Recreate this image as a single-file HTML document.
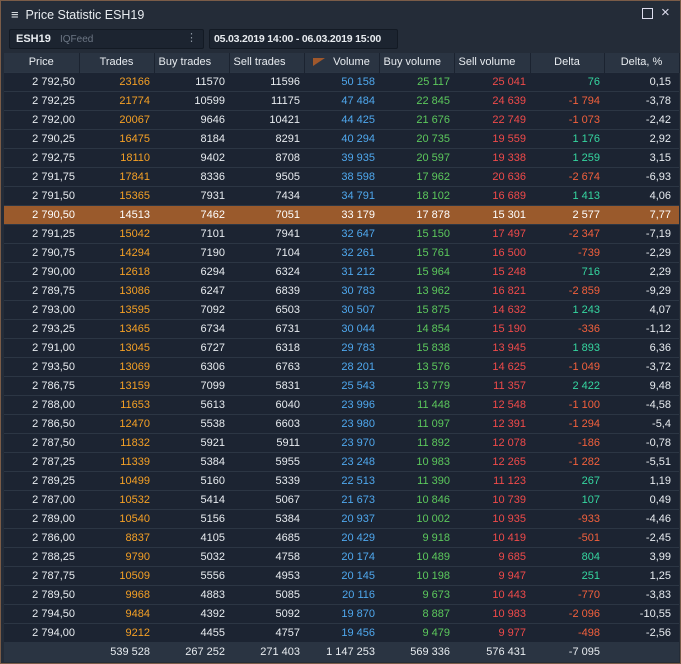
<!DOCTYPE html>
<html><head><meta charset="utf-8"><style>
*{margin:0;padding:0;box-sizing:border-box}
body{width:681px;height:664px;background:#252d39;font-family:"Liberation Sans",sans-serif;font-size:11px;color:#e8ecf0;position:relative;overflow:hidden}
.win{position:absolute;left:0;top:0;width:681px;height:664px;border:1px solid #7a5c48;background:#242c38}
.title{position:absolute;left:10px;top:6px;font-size:12.5px;color:#e8ecf0}
.ctl{position:absolute;top:5px;font-size:13px;color:#dde}
.box1{position:absolute;left:8px;top:28px;width:195px;height:20px;background:#1c2430;border:1px solid #131a24;border-radius:2px}
.box2{position:absolute;left:208px;top:28px;width:189px;height:20px;background:#1c2430;border:1px solid #131a24;border-radius:2px;font-weight:bold;padding:3px 0 0 4px;font-size:10.5px;white-space:nowrap;letter-spacing:-0.2px}
table{position:absolute;left:3px;top:52px;width:675px;border-collapse:collapse;table-layout:fixed}
td,th{height:19px;text-align:right;padding-right:4px;white-space:nowrap;font-weight:normal}
td:last-child{padding-right:8px}
th{background:#2a3442;border-right:1px solid #1b2330;text-align:center;padding:0;height:19px;font-size:11px}
tr.r td{background:#1c2432;border-top:1px solid #2c3644}
tr.h td{background:#9a5a2c;color:#fff!important;border-top:1px solid #2c3644}
tr.f td{background:#2a3442;height:20px}
.o{color:#f5a025}.b{color:#4fa8ee}.g{color:#5cc85c}.rd{color:#f04a4a}.p{color:#35d6a0}.n{color:#f2603c}
</style></head><body><div class="win">
<div class="title"><span style="font-size:13px">&#8801;</span>&nbsp; Price Statistic ESH19</div>
<div class="ctl" style="left:641px;width:11px;height:11px;border:1.3px solid #dde;top:7px"></div>
<div class="ctl" style="left:660px;top:3px;font-size:15px">&#215;</div>
<div class="box1"><span style="position:absolute;left:6px;top:3px;font-weight:bold">ESH19</span><span style="position:absolute;left:50px;top:4px;color:#6c7684;font-size:10px">IQFeed</span><span style="position:absolute;right:6px;top:1px;color:#8a94a0">&#8942;</span></div>
<div class="box2">05.03.2019 14:00 - 06.03.2019 15:00</div>
<table>
<colgroup><col style="width:75px"><col style="width:75px"><col style="width:75px"><col style="width:75px"><col style="width:75px"><col style="width:75px"><col style="width:76px"><col style="width:74px"><col style="width:75px"></colgroup>
<tr><th>Price</th><th>Trades</th><th style="text-align:left;padding-left:4px">Buy trades</th><th style="text-align:left;padding-left:4px">Sell trades</th><th><span style="display:inline-block;width:0;height:0;border-top:8px solid #a0582c;border-right:12px solid transparent;margin-right:8px;vertical-align:-1px"></span>Volume</th><th style="text-align:left;padding-left:4px">Buy volume</th><th style="text-align:left;padding-left:4px">Sell volume</th><th>Delta</th><th>Delta, %</th></tr>
<tr class="r"><td>2 792,50</td><td class="o">23166</td><td>11570</td><td>11596</td><td class="b">50 158</td><td class="g">25 117</td><td class="rd">25 041</td><td class="p">76</td><td>0,15</td></tr>
<tr class="r"><td>2 792,25</td><td class="o">21774</td><td>10599</td><td>11175</td><td class="b">47 484</td><td class="g">22 845</td><td class="rd">24 639</td><td class="n">-1 794</td><td>-3,78</td></tr>
<tr class="r"><td>2 792,00</td><td class="o">20067</td><td>9646</td><td>10421</td><td class="b">44 425</td><td class="g">21 676</td><td class="rd">22 749</td><td class="n">-1 073</td><td>-2,42</td></tr>
<tr class="r"><td>2 790,25</td><td class="o">16475</td><td>8184</td><td>8291</td><td class="b">40 294</td><td class="g">20 735</td><td class="rd">19 559</td><td class="p">1 176</td><td>2,92</td></tr>
<tr class="r"><td>2 792,75</td><td class="o">18110</td><td>9402</td><td>8708</td><td class="b">39 935</td><td class="g">20 597</td><td class="rd">19 338</td><td class="p">1 259</td><td>3,15</td></tr>
<tr class="r"><td>2 791,75</td><td class="o">17841</td><td>8336</td><td>9505</td><td class="b">38 598</td><td class="g">17 962</td><td class="rd">20 636</td><td class="n">-2 674</td><td>-6,93</td></tr>
<tr class="r"><td>2 791,50</td><td class="o">15365</td><td>7931</td><td>7434</td><td class="b">34 791</td><td class="g">18 102</td><td class="rd">16 689</td><td class="p">1 413</td><td>4,06</td></tr>
<tr class="h"><td>2 790,50</td><td>14513</td><td>7462</td><td>7051</td><td>33 179</td><td>17 878</td><td>15 301</td><td>2 577</td><td>7,77</td></tr>
<tr class="r"><td>2 791,25</td><td class="o">15042</td><td>7101</td><td>7941</td><td class="b">32 647</td><td class="g">15 150</td><td class="rd">17 497</td><td class="n">-2 347</td><td>-7,19</td></tr>
<tr class="r"><td>2 790,75</td><td class="o">14294</td><td>7190</td><td>7104</td><td class="b">32 261</td><td class="g">15 761</td><td class="rd">16 500</td><td class="n">-739</td><td>-2,29</td></tr>
<tr class="r"><td>2 790,00</td><td class="o">12618</td><td>6294</td><td>6324</td><td class="b">31 212</td><td class="g">15 964</td><td class="rd">15 248</td><td class="p">716</td><td>2,29</td></tr>
<tr class="r"><td>2 789,75</td><td class="o">13086</td><td>6247</td><td>6839</td><td class="b">30 783</td><td class="g">13 962</td><td class="rd">16 821</td><td class="n">-2 859</td><td>-9,29</td></tr>
<tr class="r"><td>2 793,00</td><td class="o">13595</td><td>7092</td><td>6503</td><td class="b">30 507</td><td class="g">15 875</td><td class="rd">14 632</td><td class="p">1 243</td><td>4,07</td></tr>
<tr class="r"><td>2 793,25</td><td class="o">13465</td><td>6734</td><td>6731</td><td class="b">30 044</td><td class="g">14 854</td><td class="rd">15 190</td><td class="n">-336</td><td>-1,12</td></tr>
<tr class="r"><td>2 791,00</td><td class="o">13045</td><td>6727</td><td>6318</td><td class="b">29 783</td><td class="g">15 838</td><td class="rd">13 945</td><td class="p">1 893</td><td>6,36</td></tr>
<tr class="r"><td>2 793,50</td><td class="o">13069</td><td>6306</td><td>6763</td><td class="b">28 201</td><td class="g">13 576</td><td class="rd">14 625</td><td class="n">-1 049</td><td>-3,72</td></tr>
<tr class="r"><td>2 786,75</td><td class="o">13159</td><td>7099</td><td>5831</td><td class="b">25 543</td><td class="g">13 779</td><td class="rd">11 357</td><td class="p">2 422</td><td>9,48</td></tr>
<tr class="r"><td>2 788,00</td><td class="o">11653</td><td>5613</td><td>6040</td><td class="b">23 996</td><td class="g">11 448</td><td class="rd">12 548</td><td class="n">-1 100</td><td>-4,58</td></tr>
<tr class="r"><td>2 786,50</td><td class="o">12470</td><td>5538</td><td>6603</td><td class="b">23 980</td><td class="g">11 097</td><td class="rd">12 391</td><td class="n">-1 294</td><td>-5,4</td></tr>
<tr class="r"><td>2 787,50</td><td class="o">11832</td><td>5921</td><td>5911</td><td class="b">23 970</td><td class="g">11 892</td><td class="rd">12 078</td><td class="n">-186</td><td>-0,78</td></tr>
<tr class="r"><td>2 787,25</td><td class="o">11339</td><td>5384</td><td>5955</td><td class="b">23 248</td><td class="g">10 983</td><td class="rd">12 265</td><td class="n">-1 282</td><td>-5,51</td></tr>
<tr class="r"><td>2 789,25</td><td class="o">10499</td><td>5160</td><td>5339</td><td class="b">22 513</td><td class="g">11 390</td><td class="rd">11 123</td><td class="p">267</td><td>1,19</td></tr>
<tr class="r"><td>2 787,00</td><td class="o">10532</td><td>5414</td><td>5067</td><td class="b">21 673</td><td class="g">10 846</td><td class="rd">10 739</td><td class="p">107</td><td>0,49</td></tr>
<tr class="r"><td>2 789,00</td><td class="o">10540</td><td>5156</td><td>5384</td><td class="b">20 937</td><td class="g">10 002</td><td class="rd">10 935</td><td class="n">-933</td><td>-4,46</td></tr>
<tr class="r"><td>2 786,00</td><td class="o">8837</td><td>4105</td><td>4685</td><td class="b">20 429</td><td class="g">9 918</td><td class="rd">10 419</td><td class="n">-501</td><td>-2,45</td></tr>
<tr class="r"><td>2 788,25</td><td class="o">9790</td><td>5032</td><td>4758</td><td class="b">20 174</td><td class="g">10 489</td><td class="rd">9 685</td><td class="p">804</td><td>3,99</td></tr>
<tr class="r"><td>2 787,75</td><td class="o">10509</td><td>5556</td><td>4953</td><td class="b">20 145</td><td class="g">10 198</td><td class="rd">9 947</td><td class="p">251</td><td>1,25</td></tr>
<tr class="r"><td>2 789,50</td><td class="o">9968</td><td>4883</td><td>5085</td><td class="b">20 116</td><td class="g">9 673</td><td class="rd">10 443</td><td class="n">-770</td><td>-3,83</td></tr>
<tr class="r"><td>2 794,50</td><td class="o">9484</td><td>4392</td><td>5092</td><td class="b">19 870</td><td class="g">8 887</td><td class="rd">10 983</td><td class="n">-2 096</td><td>-10,55</td></tr>
<tr class="r"><td>2 794,00</td><td class="o">9212</td><td>4455</td><td>4757</td><td class="b">19 456</td><td class="g">9 479</td><td class="rd">9 977</td><td class="n">-498</td><td>-2,56</td></tr>
<tr class="f"><td></td><td>539 528</td><td>267 252</td><td>271 403</td><td>1 147 253</td><td>569 336</td><td>576 431</td><td>-7 095</td><td></td></tr>
</table>
</div></body></html>
